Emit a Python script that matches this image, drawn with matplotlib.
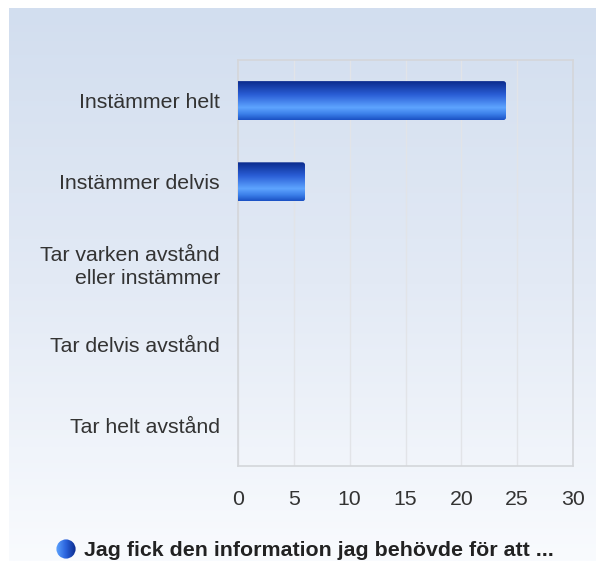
import matplotlib.pyplot as plt
import numpy as np
from matplotlib.colors import LinearSegmentedColormap
from matplotlib.patches import FancyBboxPatch, Circle

plt.rcParams['font.family'] = ['Liberation Sans', 'DejaVu Sans']

# -------------------------------
# DATA
# -------------------------------
categories = ["Instämmer helt", "Instämmer delvis", "Tar varken avstånd\neller instämmer",
              "Tar delvis avstånd", "Tar helt avstånd"]
values = [24, 6, 0, 0, 0]
x_ticks = [0, 5, 10, 15, 20, 25, 30]
legend_label = "Jag fick den information jag behövde för att ..."

W, H = 596, 561
fig = plt.figure(figsize=(W / 100, H / 100), dpi=100)
fig.patch.set_facecolor("white")

# background panel with vertical gradient
bg = fig.add_axes([9 / W, 0, 1 - 9 / W, 1 - 8 / H])
bg_cmap = LinearSegmentedColormap.from_list("bg", ["#d2deef", "#e3eaf5", "#f9fbfe"])
bg.imshow(np.linspace(0, 1, 256).reshape(-1, 1), aspect="auto", cmap=bg_cmap,
          extent=[0, 1, 0, 1])
bg.set_axis_off()

# -------------------------------
# MAIN CHART
# -------------------------------
ax = fig.add_axes([238 / W, 1 - 466 / H, 335 / W, 406 / H])
ax.set_facecolor("none")
ax.set_xlim(0, 30)
ax.set_ylim(len(categories) - 0.5, -0.5)

y = np.arange(len(categories))
bars = ax.barh(y, values, height=0.48, color="none", edgecolor="none")

bar_cmap = LinearSegmentedColormap.from_list(
    "bar", [(0.0, "#0a2a8c"), (0.35, "#2a5ed6"), (0.68, "#5ea4ff"), (0.85, "#3a7ee8"), (1.0, "#1a50c4")])
grad = np.linspace(0, 1, 256).reshape(-1, 1)
for rect, v in zip(bars, values):
    if v <= 0:
        continue
    x0, y0 = rect.get_x(), rect.get_y()
    w, h = rect.get_width(), rect.get_height()
    im = ax.imshow(grad, aspect="auto", cmap=bar_cmap, extent=[x0, x0 + w, y0 + h, y0],
                   zorder=3, interpolation="bilinear")
    clip = FancyBboxPatch((x0 - 0.4, y0), w + 0.4, h,
                          boxstyle="round,pad=0,rounding_size=0.25",
                          mutation_aspect=1 / 8, transform=ax.transData,
                          facecolor="none", edgecolor="none")
    ax.add_patch(clip)
    im.set_clip_path(clip)
ax.set_xlim(0, 30)
ax.set_ylim(len(categories) - 0.5, -0.5)

ax.set_xticks(x_ticks)
ax.set_xticklabels([str(t) for t in x_ticks], fontsize=15.3, color="#333333")
ax.set_yticks(y)
ax.set_yticklabels(categories, fontsize=15.3, color="#333333", multialignment="right",
                   linespacing=1.3)
ax.tick_params(axis="x", length=0, pad=17)
ax.tick_params(axis="y", length=0, pad=13)
ax.grid(axis="x", color="#e2e4e8", linewidth=1)
ax.set_axisbelow(True)
for s in ax.spines.values():
    s.set_color("#d4d6da")
    s.set_linewidth(1.2)

# -------------------------------
# LEGEND
# -------------------------------
lg = fig.add_axes([56 / W, 1 - 559 / H, 20 / W, 20 / H])
lg.set_axis_off()
lg.set_xlim(0, 1)
lg.set_ylim(0, 1)
circ_cmap = LinearSegmentedColormap.from_list("circ", ["#5ea4ff", "#2a62dc", "#0a2a8c"])
cim = lg.imshow(np.linspace(0, 1, 256).reshape(1, -1), aspect="auto", cmap=circ_cmap,
                extent=[0, 1, 0, 1])
c = Circle((0.5, 0.5), 0.48, transform=lg.transData, facecolor="none", edgecolor="none")
lg.add_patch(c)
cim.set_clip_path(c)
fig.text(84 / W, 1 - 550 / H, legend_label, fontsize=15.4, fontweight="bold",
         color="#222222", va="center", ha="left")

fig.savefig("out.png", dpi=100)
